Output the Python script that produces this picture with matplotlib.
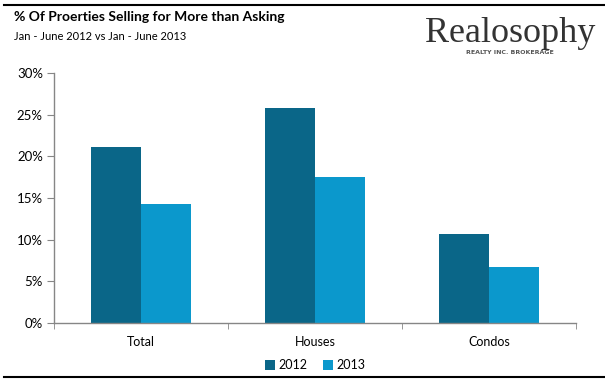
import numpy as np
import matplotlib.pyplot as plt
from matplotlib.lines import Line2D

categories = ["Total", "Houses", "Condos"]
pct_2012 = [21.1, 25.8, 10.7]
pct_2013 = [14.3, 17.5, 6.7]
years = ["2012", "2013"]
colors = ["#0A6688", "#0B98CC"]

plt.rcParams['font.family'] = ['Lato', 'DejaVu Sans']

fig = plt.figure(figsize=(6.05, 3.83), dpi=100)
ax = fig.add_axes([54 / 605, 60 / 383, 522 / 605, 250 / 383])

x = np.arange(len(categories))
w = 0.287
ax.bar(x - w / 2, pct_2012, w, color=colors[0], label=years[0])
ax.bar(x + w / 2, pct_2013, w, color=colors[1], label=years[1])

ax.set_xlim(-0.5, len(categories) - 0.5)
ax.set_ylim(0, 30)
ax.set_yticks(range(0, 31, 5))
ax.set_yticklabels([f"{v}%" for v in range(0, 31, 5)], fontsize=9.5)
ax.set_xticks(x)
ax.set_xticklabels(categories, fontsize=9)
ax.tick_params(axis='x', length=0, pad=9)
ax.set_xticks(np.arange(-0.5, len(categories), 1), minor=True)
ax.tick_params(axis='x', which='minor', length=4, color='#868686')
ax.tick_params(axis='y', length=5, color='#868686', pad=3)

for s in ['top', 'right']:
    ax.spines[s].set_visible(False)
for s in ['left', 'bottom']:
    ax.spines[s].set_color('#868686')
    ax.spines[s].set_linewidth(1)

ax.legend(loc='upper center', bbox_to_anchor=(0.5, -0.1), ncol=2, frameon=False,
          fontsize=9, handlelength=0.8, handleheight=0.8, handletextpad=0.3,
          columnspacing=1.2)

# frame lines
fig.add_artist(Line2D([4 / 605, 1], [1 - 5 / 383] * 2, color='black', lw=1.5))
fig.add_artist(Line2D([4 / 605, 1], [1 - 377 / 383] * 2, color='black', lw=1.5))

# titles
fig.text(14 / 605, 1 - 17 / 383, "% Of Proerties Selling for More than Asking",
         fontsize=10, fontweight='bold', va='center', ha='left')
fig.text(14 / 605, 1 - 37 / 383, "Jan - June 2012 vs Jan - June 2013",
         fontsize=8, va='center', ha='left')

# logo
fig.text(510 / 605, 1 - 34 / 383, "Realosophy", family='Liberation Serif',
         fontsize=26, va='center', ha='center', color='#333333')
fig.text(510 / 605, 1 - 53 / 383, "REALTY INC. BROKERAGE", family='DejaVu Sans',
         fontsize=4.5, fontweight='bold', va='center', ha='center', color='#555555')

fig.savefig("out.png", dpi=100)
